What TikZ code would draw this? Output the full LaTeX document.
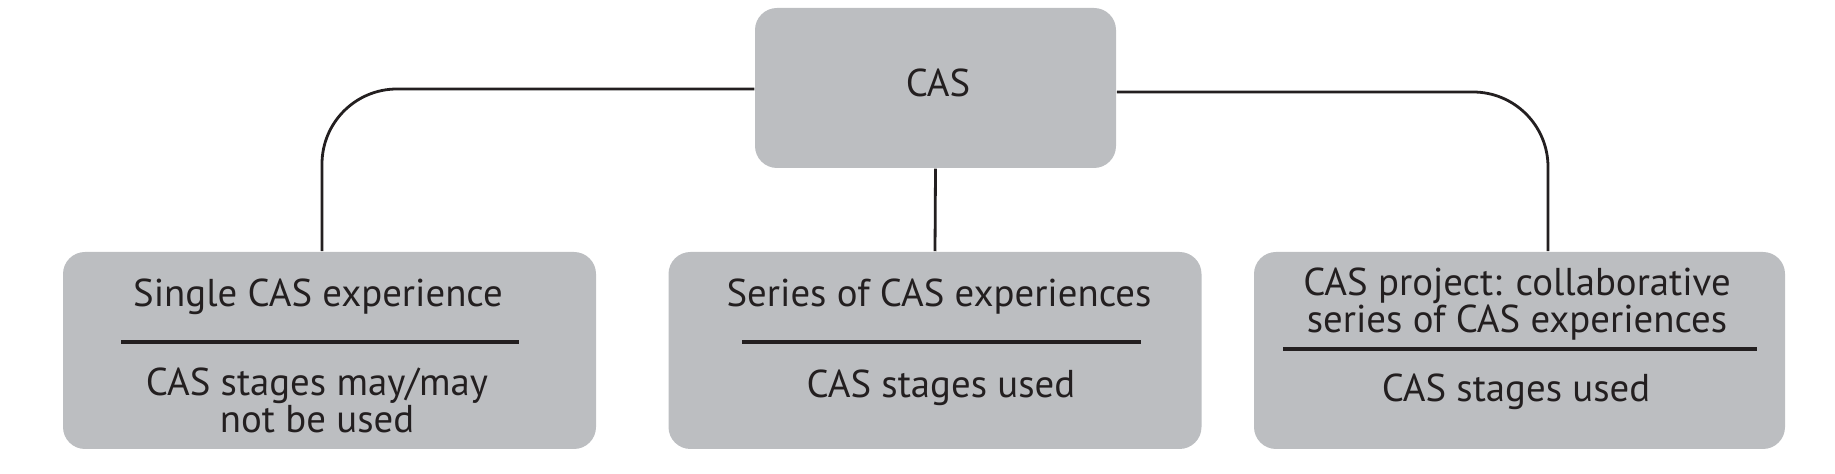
\documentclass[tikz,border=0pt]{standalone}
\usepackage{fontspec}
\setmainfont{PT Sans}
\definecolor{boxgrey}{RGB}{188,190,193}
\definecolor{ink}{RGB}{35,31,32}

\tikzset{every picture/.style={line width=0.75pt}}

\begin{document}
\begin{tikzpicture}[x=0.5pt,y=0.5pt,yscale=-1,xscale=1,
    box/.style={fill=boxgrey, rounded corners=11pt, inner sep=0pt},
    link/.style={draw=ink, line width=1.4pt, rounded corners=37.5pt},
    rule/.style={draw=ink, line width=2.2pt},
    label/.style={text=ink, font=\fontsize{19.4}{15.5}\selectfont, align=center, inner sep=0pt, anchor=base}]
        \path (0,0) rectangle (1835,474); %set diagram size

        % Boxes
        \node [box, minimum width=180.5pt, minimum height=80pt] (cas) at (935.5,88) {};
        \node [box, minimum width=266.5pt, minimum height=98.5pt] (single) at (329.5,350.5) {};
        \node [box, minimum width=266.5pt, minimum height=98.5pt] (series) at (935,350.5) {};
        \node [box, minimum width=265.5pt, minimum height=98.5pt] (project) at (1519.5,350.5) {};

        % Connectors
        \draw [link] ([yshift=0.5pt]cas.west) -| ([xshift=-3.75pt]single.north) ;
        \draw [link] (cas.south) -- (series.north) ;
        \draw [link] ([yshift=2pt]cas.east) -| ([xshift=14.25pt]project.north) ;

        % Rules
        \draw [rule] (121,342) -- (519,342) ;
        \draw [rule] (742,342) -- (1141,342) ;
        \draw [rule] (1283,349) -- (1757,349) ;

        % Text Node
        \node [label] (castext) at (938,97) {CAS};
        % Text Node
        \node [label] (singletitle) at (318,307) {Single CAS experience};
        % Text Node (base = last line)
        \node [label] (singlestages) at (317,433) {CAS stages may/may\\not be used};
        % Text Node
        \node [label] (seriestitle) at (939,307) {Series of CAS experiences};
        % Text Node
        \node [label] (seriesstages) at (941,398) {CAS stages used};
        % Text Node (base = last line)
        \node [label] (projecttitle) at (1517,333) {CAS project: collaborative\\series of CAS experiences};
        % Text Node
        \node [label] (projectstages) at (1516,402) {CAS stages used};
\end{tikzpicture}
\end{document}
